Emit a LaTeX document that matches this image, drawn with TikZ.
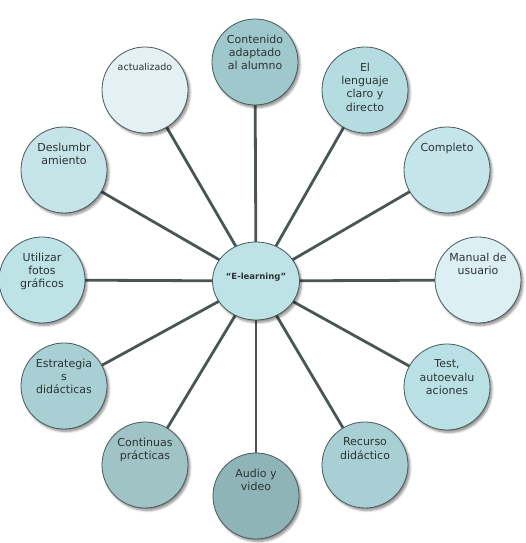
\documentclass[tikz,border=0pt]{standalone}
\usepackage{fontspec}
\setmainfont{DejaVu Sans}
\usetikzlibrary{shadows.blur,backgrounds,shapes.geometric}
\definecolor{edgecol}{HTML}{4A5A5C}
\definecolor{linecol}{HTML}{4B5556}
\definecolor{textcol}{HTML}{2E3333}
\definecolor{cCenter}{HTML}{BEE3E6}
\definecolor{cConten}{HTML}{9FC8CC}
\definecolor{cActual}{HTML}{E3F1F4}
\definecolor{cLengua}{HTML}{B5DDE1}
\definecolor{cComple}{HTML}{C4E6EA}
\definecolor{cManual}{HTML}{DCEFF2}
\definecolor{cTest}{HTML}{B9E1E5}
\definecolor{cRecur}{HTML}{A8CFD3}
\definecolor{cAudio}{HTML}{8FB4B7}
\definecolor{cContin}{HTML}{A0C4C6}
\definecolor{cEstrat}{HTML}{A8D0D4}
\definecolor{cUtil}{HTML}{BDE3E7}
\definecolor{cDeslu}{HTML}{C5E4E8}
\tikzset{
  shad/.style={blur shadow={shadow xshift=2pt,shadow yshift=-2.5pt,shadow blur steps=6,shadow opacity=45}},
  leaf/.style={circle,draw=edgecol,line width=0.8pt,minimum size=86pt,inner sep=0pt,shad},
  hub/.style={ellipse,draw=edgecol,line width=0.8pt,minimum width=87pt,minimum height=78pt,inner sep=0pt,shad},
  txt/.style={anchor=north,yshift=-16pt,align=center,inner sep=0pt,text=textcol,font=\fontsize{11}{13.3}\selectfont},
  smalltxt/.style={txt,font=\fontsize{9.5}{11.5}\selectfont},
  hubtxt/.style={txt,yshift=-15pt,font=\fontsize{8.5}{10}\selectfont\bfseries},
  spoke/.style={draw=linecol,line width=2.8pt}
}
\begin{document}
\begin{tikzpicture}[x=1pt,y=1pt]
\useasboundingbox (0,0) rectangle (525,543);
\node[hub,fill=cCenter,label={[hubtxt]north:{“E-learning”}}] (hub) at (256,262) {};
\node[leaf,fill=cConten,label={[txt]north:{Contenido\\adaptado\\al alumno}}] (n1) at (255,481) {};
\node[leaf,fill=cLengua,label={[txt]north:{El\\lenguaje\\claro y\\directo}}] (n2) at (365,453) {};
\node[leaf,fill=cComple,label={[txt]north:{Completo}}] (n3) at (447,373) {};
\node[leaf,fill=cManual,label={[txt]north:{Manual de\\usuario}}] (n4) at (478,263) {};
\node[leaf,fill=cTest,label={[txt]north:{Test,\\autoevalu\\aciones}}] (n5) at (447,156) {};
\node[leaf,fill=cRecur,label={[txt]north:{Recurso\\didáctico}}] (n6) at (365,78) {};
\node[leaf,fill=cAudio,label={[txt]north:{Audio y\\video}}] (n7) at (256,47) {};
\node[leaf,fill=cContin,label={[txt]north:{Continuas\\prácticas}}] (n8) at (145,78) {};
\node[leaf,fill=cEstrat,label={[txt]north:{Estrategia\\s\\didácticas}}] (n9) at (64,157) {};
\node[leaf,fill=cUtil,label={[txt]north:{Utilizar\\fotos\\gráficos}}] (n10) at (42,263) {};
\node[leaf,fill=cDeslu,label={[txt]north:{Deslumbr\\amiento}}] (n11) at (64,373) {};
\node[leaf,fill=cActual,label={[smalltxt]north:{actualizado}}] (n12) at (145,453) {};
\begin{scope}[on background layer]
\foreach \n in {n1,n2,n3,n4,n5,n6,n7,n8,n9,n10,n11,n12}
  \draw[spoke] (hub.center) -- (\n.center);
\end{scope}
\end{tikzpicture}
\end{document}
